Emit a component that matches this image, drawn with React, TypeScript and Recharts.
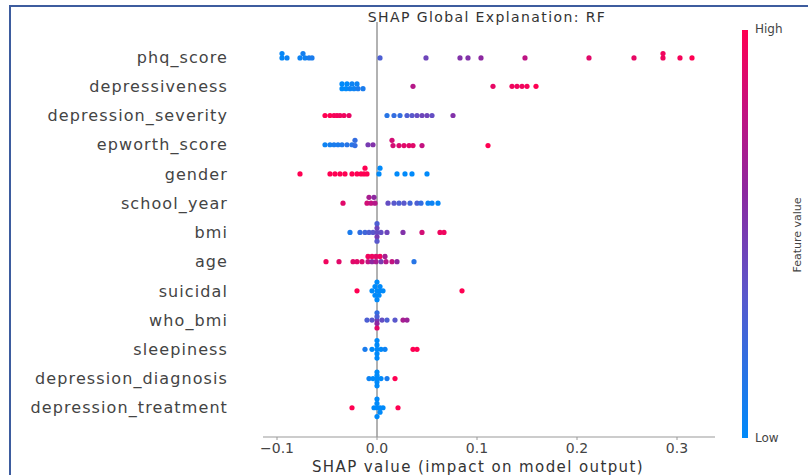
import React from "react";
import {
  ScatterChart,
  Scatter,
  XAxis,
  YAxis,
  ReferenceLine,
} from "recharts";

// [shap value, swarm offset (rows), feature value 0..1]
type pt = [number, number, number];

const features = [
  "phq_score",
  "depressiveness",
  "depression_severity",
  "epworth_score",
  "gender",
  "school_year",
  "bmi",
  "age",
  "suicidal",
  "who_bmi",
  "sleepiness",
  "depression_diagnosis",
  "depression_treatment",
];

const phqScore: pt[] = [
  [-0.095, -0.12, 0.02], [-0.095, 0.03, 0.02], [-0.09, 0.03, 0.05],
  [-0.077, 0.03, 0.05], [-0.074, -0.12, 0.08], [-0.072, 0.03, 0.06],
  [-0.068, 0.03, 0.1], [-0.065, 0.03, 0.1], [0.003, 0.03, 0.3],
  [0.049, 0.03, 0.45], [0.083, 0.03, 0.55], [0.091, 0.03, 0.55],
  [0.104, 0.03, 0.6], [0.148, 0.03, 0.78], [0.212, 0.03, 0.9],
  [0.257, 0.03, 0.92], [0.286, -0.12, 0.95], [0.286, 0.03, 0.95],
  [0.303, 0.03, 0.97], [0.315, 0.03, 1.0],
];
const depressiveness: pt[] = [
  [-0.035, -0.08, 0.0], [-0.03, -0.08, 0.0], [-0.025, -0.08, 0.05], [-0.02, -0.08, 0.05],
  [-0.035, 0.08, 0.0], [-0.031, 0.08, 0.0], [-0.027, 0.08, 0.05], [-0.023, 0.08, 0.05],
  [-0.019, 0.08, 0.1], [-0.014, 0.08, 0.1], [0.036, 0.0, 0.75], [0.116, 0.0, 0.92],
  [0.135, 0.0, 0.95], [0.14, 0.0, 0.95], [0.145, 0.0, 0.95], [0.15, 0.0, 0.97],
  [0.159, 0.0, 1.0],
];
const depressionSeverity: pt[] = [
  [-0.052, 0.0, 1.0], [-0.047, 0.0, 1.0], [-0.043, 0.0, 0.97], [-0.04, 0.0, 0.97],
  [-0.037, 0.0, 0.95], [-0.033, 0.0, 0.95], [-0.028, 0.0, 0.92], [0.01, 0.0, 0.15],
  [0.017, 0.0, 0.2], [0.023, 0.0, 0.2], [0.03, 0.0, 0.3], [0.035, 0.0, 0.35],
  [0.04, 0.0, 0.4], [0.045, 0.0, 0.45], [0.05, 0.0, 0.45], [0.055, 0.0, 0.4],
  [0.076, 0.0, 0.55],
];
const epworthScore: pt[] = [
  [-0.052, 0.0, 0.05], [-0.047, 0.0, 0.08], [-0.043, 0.0, 0.1], [-0.039, 0.0, 0.1],
  [-0.035, 0.0, 0.12], [-0.03, 0.0, 0.15], [-0.025, 0.0, 0.15], [-0.022, -0.15, 0.2],
  [-0.022, 0.03, 0.2], [-0.009, 0.0, 0.5], [-0.004, 0.0, 0.55], [0.015, -0.15, 0.85],
  [0.016, 0.03, 0.85], [0.022, 0.03, 0.88], [0.027, 0.03, 0.9], [0.032, 0.03, 0.9],
  [0.036, 0.03, 0.9], [0.045, 0.03, 0.8], [0.111, 0.03, 1.0],
];
const gender: pt[] = [
  [-0.077, 0.0, 1.0], [-0.047, 0.0, 1.0], [-0.042, 0.0, 1.0], [-0.037, 0.0, 1.0],
  [-0.032, 0.0, 1.0], [-0.025, 0.0, 1.0], [-0.02, 0.0, 1.0], [-0.016, 0.0, 1.0],
  [-0.013, 0.0, 1.0], [-0.012, -0.2, 1.0], [-0.01, 0.0, 1.0], [0.002, 0.0, 0.0],
  [0.003, -0.2, 0.0], [0.02, 0.0, 0.0], [0.028, 0.0, 0.0], [0.035, 0.0, 0.0],
  [0.05, 0.0, 0.0],
];
const schoolYear: pt[] = [
  [-0.034, 0.0, 0.9], [-0.01, 0.0, 0.85], [-0.008, -0.2, 0.7], [-0.006, 0.0, 0.8],
  [-0.003, -0.2, 0.6], [-0.002, 0.0, 0.75], [0.011, 0.0, 0.4], [0.017, 0.0, 0.35],
  [0.022, 0.0, 0.3], [0.027, 0.0, 0.35], [0.033, 0.0, 0.25], [0.04, 0.0, 0.3],
  [0.044, 0.0, 0.2], [0.051, 0.0, 0.05], [0.055, 0.0, 0.05], [0.061, 0.0, 0.02],
];
const bmi: pt[] = [
  [-0.027, 0.0, 0.1], [-0.017, 0.0, 0.2], [-0.012, 0.0, 0.25], [-0.008, 0.0, 0.3],
  [-0.004, 0.0, 0.35], [0.0, 0.0, 0.4], [0.0, -0.3, 0.3], [0.0, -0.15, 0.45],
  [0.0, 0.15, 0.5], [0.0, 0.3, 0.35], [0.004, 0.0, 0.4], [0.01, 0.0, 0.45],
  [0.026, 0.0, 0.55], [0.045, 0.0, 0.85], [0.063, 0.0, 0.95], [0.067, 0.0, 0.95],
];
const age: pt[] = [
  [-0.051, 0.0, 0.95], [-0.038, 0.0, 0.9], [-0.024, 0.0, 0.9], [-0.02, 0.0, 0.9],
  [-0.015, 0.0, 0.88], [-0.009, 0.0, 0.8], [-0.005, 0.0, 0.6], [-0.001, 0.0, 0.7],
  [0.004, 0.0, 0.5], [0.009, 0.0, 0.75], [0.015, 0.0, 0.8], [0.02, 0.0, 0.6],
  [-0.009, -0.18, 0.95], [-0.005, -0.18, 0.95], [-0.001, -0.18, 0.9], [0.003, -0.18, 0.95],
  [0.008, -0.18, 0.7], [0.037, 0.0, 0.15],
];
const suicidal: pt[] = [
  [-0.02, 0.0, 1.0], [-0.005, 0.0, 0.0], [-0.002, -0.15, 0.0], [0.0, -0.3, 0.0],
  [0.0, 0.0, 0.0], [0.0, 0.3, 0.0], [0.002, 0.15, 0.0], [0.003, -0.15, 0.0],
  [0.003, 0.0, 0.0], [-0.002, 0.15, 0.0], [0.006, 0.0, 0.0], [0.085, 0.0, 1.0],
];
const whoBmi: pt[] = [
  [-0.01, 0.0, 0.3], [-0.005, 0.0, 0.35], [0.0, 0.0, 0.5], [0.005, 0.0, 0.4],
  [0.01, 0.0, 0.3], [0.018, 0.0, 0.35], [0.026, 0.0, 0.7], [0.03, 0.0, 0.65],
  [0.0, -0.25, 0.2], [0.0, -0.12, 0.3], [0.0, 0.12, 0.6], [0.0, 0.27, 0.9],
];
const sleepiness: pt[] = [
  [-0.012, 0.0, 0.1], [-0.005, 0.0, 0.0], [0.0, 0.0, 0.0], [0.004, 0.0, 0.0],
  [0.008, 0.0, 0.05], [0.0, -0.3, 0.0], [0.0, -0.15, 0.0], [0.0, 0.15, 0.0],
  [0.0, 0.3, 0.0], [0.036, 0.0, 1.0], [0.04, 0.0, 1.0],
];
const depressionDiagnosis: pt[] = [
  [-0.008, 0.0, 0.05], [-0.004, 0.0, 0.0], [0.0, 0.0, 0.0], [0.004, 0.0, 0.0],
  [0.01, 0.0, 0.1], [0.0, -0.22, 0.0], [0.0, -0.11, 0.0], [0.0, 0.12, 0.0],
  [0.0, 0.25, 0.0], [0.018, 0.0, 1.0],
];
const depressionTreatment: pt[] = [
  [-0.025, 0.0, 1.0], [-0.003, 0.0, 0.0], [0.0, 0.0, 0.0], [0.003, 0.0, 0.0],
  [0.006, 0.0, 0.0], [0.0, -0.3, 0.0], [0.0, -0.15, 0.0], [0.003, 0.15, 0.0],
  [0.0, 0.3, 0.0], [0.021, 0.0, 1.0],
];

const rows = [
  phqScore, depressiveness, depressionSeverity, epworthScore, gender, schoolYear,
  bmi, age, suicidal, whoBmi, sleepiness, depressionDiagnosis, depressionTreatment,
];

const xTicks = [-0.1, 0, 0.1, 0.2, 0.3];

// shap-like red_blue colormap
const stops: [number, number, number, number][] = [
  [0, 0, 138, 250],
  [0.35, 90, 88, 204],
  [0.6, 140, 40, 160],
  [0.8, 195, 18, 128],
  [1, 255, 0, 82],
];
const colorOf = (v: number) => {
  for (let i = 1; i < stops.length; i++) {
    if (v <= stops[i][0]) {
      const a = stops[i - 1];
      const b = stops[i];
      const t = (v - a[0]) / (b[0] - a[0]);
      const c = [1, 2, 3].map((k) => Math.round(a[k] + (b[k] - a[k]) * t));
      return `rgb(${c[0]},${c[1]},${c[2]})`;
    }
  }
  return "rgb(255,0,82)";
};

const data = rows.flatMap((r, i) =>
  r.map((p) => ({ x: p[0], y: i + p[1], fill: colorOf(p[2]) }))
);

const font = "'DejaVu Sans', sans-serif";

const Dot = (props: any) => {
  const { cx, cy, payload } = props;
  if (cx == null || cy == null) return null;
  return <circle cx={cx} cy={cy} r={2.6} fill={payload.fill} />;
};

const App = () => {
  return (
    <div
      style={{
        position: "absolute",
        left: 0,
        top: 0,
        width: 808,
        height: 475,
        background: "#fff",
        fontFamily: font,
        overflow: "hidden",
      }}
    >
      <div
        style={{
          position: "absolute",
          left: 9,
          top: 5,
          width: 820,
          height: 480,
          borderLeft: "2px solid #3d5c9e",
          borderTop: "2px solid #3d5c9e",
        }}
      />
      <div
        style={{
          position: "absolute",
          left: 0,
          top: 9,
          width: 974,
          textAlign: "center",
          fontSize: 14,
          letterSpacing: 1.4,
          color: "#333",
        }}
      >
        SHAP Global Explanation: RF
      </div>
      <div style={{ position: "absolute", left: 0, top: 0 }}>
        <ScatterChart
          width={808}
          height={475}
          margin={{ top: 22, right: 93, bottom: 0, left: 0 }}
        >
          <XAxis
            type="number"
            dataKey="x"
            domain={[-0.114, 0.338]}
            allowDataOverflow
            ticks={xTicks}
            tickFormatter={(v: number) => (v < 0 ? "\u2212" : "") + Math.abs(v).toFixed(1)}
            height={38}
            stroke="#999"
            tickSize={3}
            tickMargin={3}
            tick={{ fill: "#444", fontSize: 14, fontFamily: font }}
            label={{
              value: "SHAP value (impact on model output)",
              position: "insideBottom",
              offset: 3,
              dx: -11,
              fill: "#333",
              fontSize: 15,
              fontFamily: font,
              letterSpacing: 1.4,
            }}
          />
          <YAxis
            type="number"
            dataKey="y"
            domain={[-1.2, 13]}
            reversed
            allowDataOverflow
            ticks={features.map((_, i) => i)}
            interval={0}
            tickFormatter={(v: number) => features[v] ?? ""}
            width={263}
            axisLine={false}
            tickLine={false}
            tickSize={6}
            tickMargin={29}
            tick={{ fill: "#444", fontSize: 16, fontFamily: font, letterSpacing: 1.1 }}
          />
          <ReferenceLine x={0} stroke="#999" strokeWidth={1.5} />
          <Scatter data={data} isAnimationActive={false} shape={Dot} />
        </ScatterChart>
      </div>
      <div
        style={{
          position: "absolute",
          left: 742,
          top: 30,
          width: 6,
          height: 408,
          background:
            "linear-gradient(to top, rgb(0,138,250), rgb(90,88,204) 35%, rgb(140,40,160) 60%, rgb(195,18,128) 80%, rgb(255,0,82))",
        }}
      />
      <div style={{ position: "absolute", left: 755, top: 22, fontSize: 12, color: "#444" }}>
        High
      </div>
      <div style={{ position: "absolute", left: 755, top: 431, fontSize: 12, color: "#444" }}>
        Low
      </div>
      <div
        style={{
          position: "absolute",
          left: 797,
          top: 235,
          fontSize: 11,
          color: "#444",
          whiteSpace: "nowrap",
          transform: "translate(-50%, -50%) rotate(-90deg)",
        }}
      >
        Feature value
      </div>
    </div>
  );
};

export default App;
